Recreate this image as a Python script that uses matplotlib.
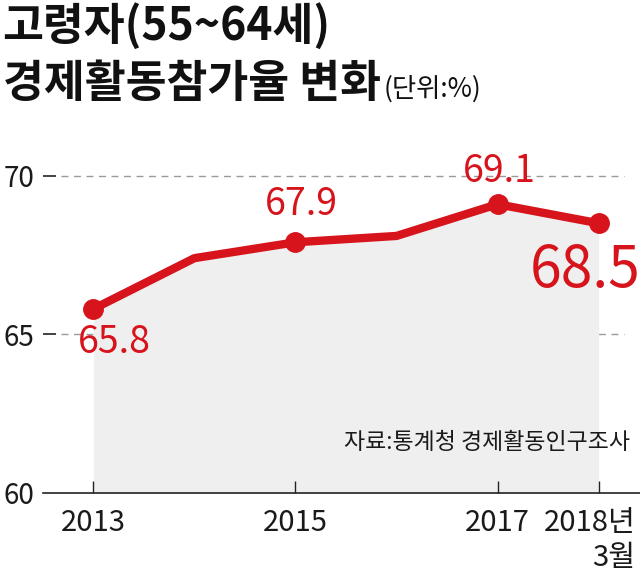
import matplotlib.pyplot as plt
from matplotlib.transforms import ScaledTranslation

plt.rcParams['font.family'] = ['Noto Sans CJK KR', 'DejaVu Sans']

# data
years = [2013, 2014, 2015, 2016, 2017, 2018]
rates = [65.8, 67.4, 67.9, 68.1, 69.1, 68.5]
marked_years = [2013, 2015, 2017, 2018]
marked_rates = [65.8, 67.9, 69.1, 68.5]
tick_labels = ['2013', '2015', '2017', '2018년\n3월']
y_ticks = [60, 65, 70]

red = '#d7141c'

fig = plt.figure(figsize=(6.4, 5.77), dpi=100)
ax = fig.add_axes([0.067, 0.1456, 0.933, 0.605])

ax.set_xlim(2012.5, 2018.41)
ax.set_ylim(60, 71)

# grey area under line
ax.fill_between(years, rates, 60, color='#efefef', zorder=1, lw=0)

# dashed gridlines
for y in y_ticks[1:]:
    ax.hlines(y, 2012.68, 2018.25, colors='#9a9a9a', linestyles=(0, (5, 4)), lw=1, zorder=0)

ax.plot(years, rates, color=red, lw=6, solid_capstyle='round', solid_joinstyle='round', zorder=3)
ax.plot(marked_years, marked_rates, 'o', color=red, ms=14, zorder=4)

# value labels
offsets = [(21, -34, 27), (6, 38, 27), (2, 33, 27), (-13, -48, 41)]
for x, v, (dx, dy, fs) in zip(marked_years, marked_rates, offsets):
    ax.annotate(f'{v}', (x, v), xytext=(dx, dy), textcoords='offset pixels',
                ha='center', va='center', color=red, fontsize=fs,
                fontweight='light', zorder=5)

# axes styling
for s in ['top', 'right', 'left']:
    ax.spines[s].set_visible(False)
ax.spines['bottom'].set_linewidth(1.2)
ax.spines['bottom'].set_color('#222222')

ax.set_yticks(y_ticks)
ax.set_yticklabels([str(v) for v in y_ticks])
ax.tick_params(axis='y', direction='in', length=9, width=1.2, color='#222222',
               labelsize=20, labelcolor='#1a1a1a', pad=6)
ax.yaxis.get_major_ticks()[0].tick1line.set_visible(False)

ax.set_xticks(marked_years)
ax.set_xticklabels(tick_labels)
ax.tick_params(axis='x', direction='in', length=9, width=1, color='#222222',
               labelsize=21, labelcolor='#1a1a1a', pad=11)
for lbl in ax.get_xticklabels() + ax.get_yticklabels():
    lbl.set_fontweight('light')
last = ax.get_xticklabels()[-1]
last.set_multialignment('right')
last.set_transform(last.get_transform() + ScaledTranslation(-9 / 100, 0, fig.dpi_scale_trans))

# source note
ax.text(0.983, 0.145, '자료:통계청 경제활동인구조사', transform=ax.transAxes,
        ha='right', va='center', fontsize=16.5, color='#1a1a1a')

# title
fig.text(0.004, 0.955, '고령자(55~64세)', ha='left', va='center',
         fontsize=32, fontweight='bold', color='#111111')
t2 = fig.text(0.004, 0.855, '경제활동참가율 변화', ha='left', va='center',
              fontsize=32, fontweight='bold', color='#111111')
ax.annotate('(단위:%)', xy=(1, 0.08), xycoords=t2, xytext=(3, 0),
            textcoords='offset pixels', ha='left', va='bottom',
            fontsize=19, color='#111111', annotation_clip=False)

fig.savefig('out.png', dpi=100)
